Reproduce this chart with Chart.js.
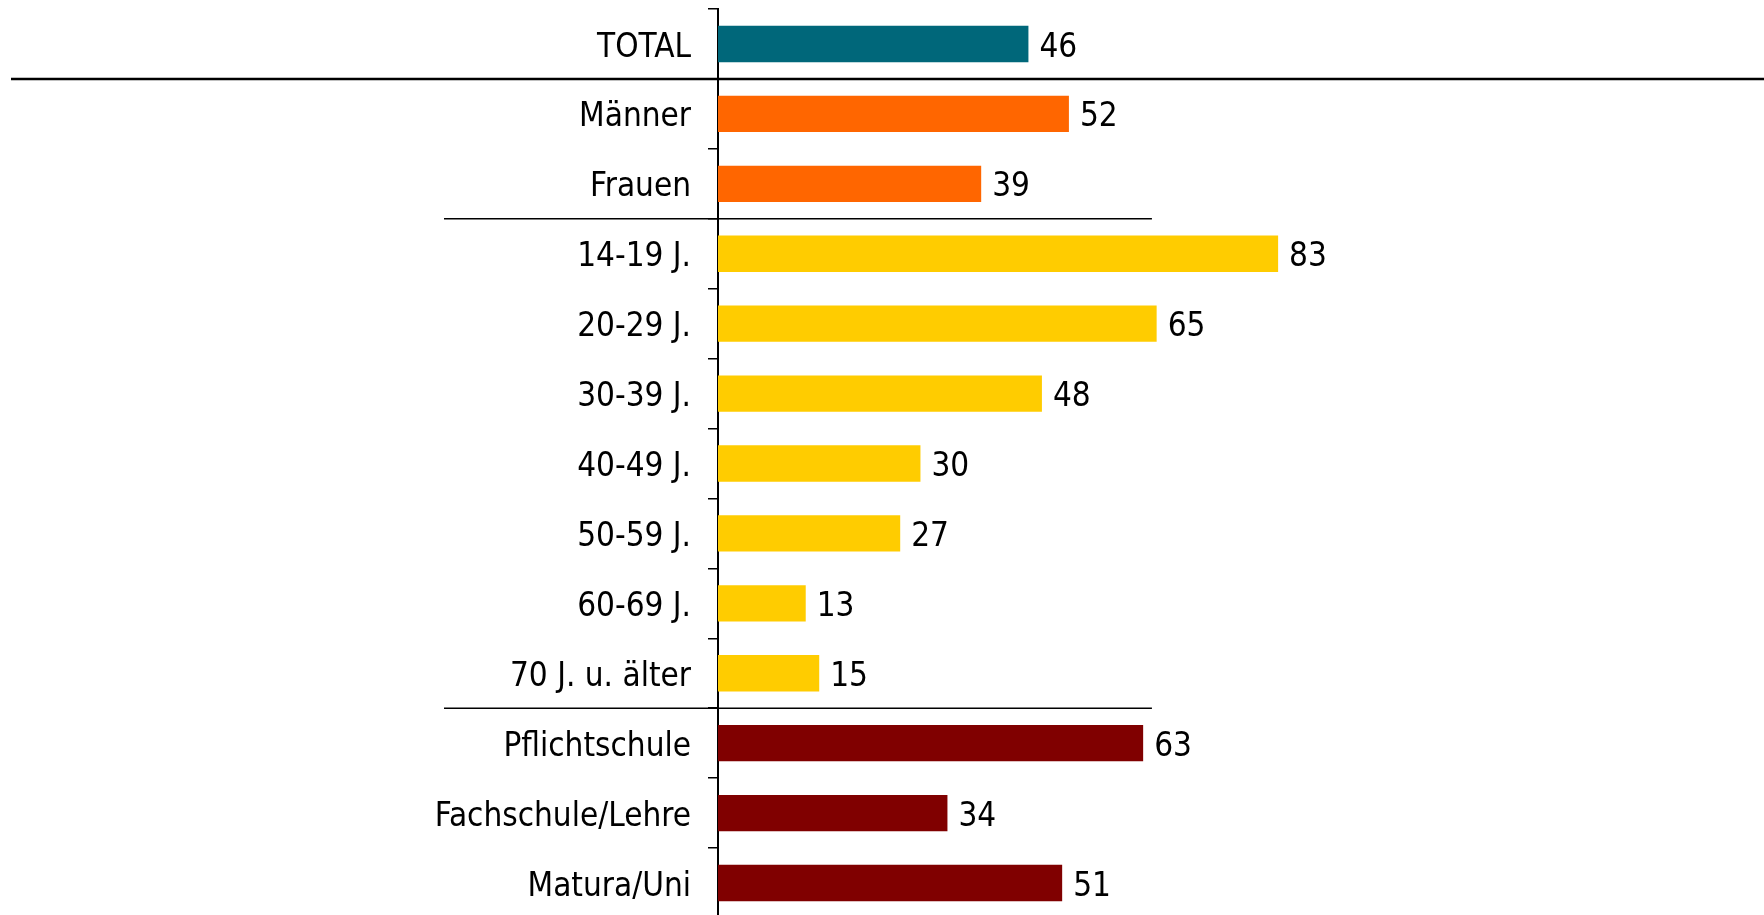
<!DOCTYPE html>
<html>
<head>
<meta charset="utf-8">
<script src="https://cdn.jsdelivr.net/npm/chart.js@4.4.0/dist/chart.umd.min.js"></script>
<style>
  html, body { margin: 0; padding: 0; background: #fff; overflow: hidden; }
  #wrap { position: relative; width: 1764px; height: 918px; }
</style>
</head>
<body>
<div id="wrap"><canvas id="chart"></canvas></div>
<script>
// data
const categories = ['TOTAL', 'Männer', 'Frauen', '14-19 J.', '20-29 J.', '30-39 J.', '40-49 J.',
  '50-59 J.', '60-69 J.', '70 J. u. älter', 'Pflichtschule', 'Fachschule/Lehre', 'Matura/Uni'];
const values = [46, 52, 39, 83, 65, 48, 30, 27, 13, 15, 63, 34, 51];
const groupOf = ['total', 'sex', 'sex', 'age', 'age', 'age', 'age', 'age', 'age', 'age', 'edu', 'edu', 'edu'];
const groupColors = { total: '#00677A', sex: '#FF6600', age: '#FFCC00', edu: '#800000' };
// separator lines after these rows (full = across the whole width)
const separators = [{ after: 0, full: true }, { after: 2, full: false }, { after: 9, full: false }];

const FONT = '"DejaVu Sans Condensed", "DejaVu Sans", Verdana, sans-serif';
const FONT_SIZE = 33;

// value labels behind the bar ends
const valueLabels = {
  id: 'valueLabels',
  afterDatasetsDraw(chart) {
    const ctx = chart.ctx;
    const meta = chart.getDatasetMeta(0);
    ctx.save();
    ctx.font = FONT_SIZE + 'px ' + FONT;
    ctx.fillStyle = '#000';
    ctx.textAlign = 'left';
    ctx.textBaseline = 'middle';
    meta.data.forEach((bar, i) => {
      ctx.fillText(String(values[i]), bar.x + 11, bar.y + 4);
    });
    ctx.restore();
  }
};

// horizontal group separators
const groupLines = {
  id: 'groupLines',
  afterDraw(chart) {
    const ctx = chart.ctx;
    const y = chart.scales.y;
    const x = chart.scales.x;
    ctx.save();
    ctx.strokeStyle = '#000';
    separators.forEach(s => {
      const yy = (y.getPixelForValue(s.after) + y.getPixelForValue(s.after + 1)) / 2;
      ctx.beginPath();
      if (s.full) {
        ctx.lineWidth = 2.5;
        ctx.moveTo(11, yy);
        ctx.lineTo(chart.width, yy);
      } else {
        ctx.lineWidth = 1.6;
        ctx.moveTo(x.left - 274, yy);
        ctx.lineTo(x.getPixelForValue(64.3), yy);
      }
      ctx.stroke();
    });
    ctx.restore();
  }
};

new Chart(document.getElementById('chart'), {
  type: 'bar',
  data: {
    labels: categories,
    datasets: [{
      data: values,
      backgroundColor: groupOf.map(g => groupColors[g]),
      borderWidth: 0,
      barPercentage: 0.52,
      categoryPercentage: 1.0
    }]
  },
  options: {
    indexAxis: 'y',
    responsive: true,
    maintainAspectRatio: false,
    animation: false,
    layout: { padding: { top: 9, right: 0, bottom: 0, left: 0 } },
    plugins: {
      legend: { display: false },
      tooltip: { enabled: false }
    },
    scales: {
      x: {
        display: false,
        min: 0,
        max: 155
      },
      y: {
        afterFit(scale) {
          scale.width = 718;
          scale.paddingTop = 0;
          scale.paddingBottom = 0;
        },
        grid: {
          display: true,
          drawOnChartArea: false,
          drawTicks: true,
          tickLength: 10,
          color: '#000',
          lineWidth: 1.5,
          offset: true
        },
        border: { display: true, color: '#000', width: 2 },
        ticks: {
          color: '#000',
          padding: 17,
          labelOffset: 4,
          font: { family: FONT, size: FONT_SIZE }
        }
      }
    }
  },
  plugins: [valueLabels, groupLines]
});
</script>
</body>
</html>
